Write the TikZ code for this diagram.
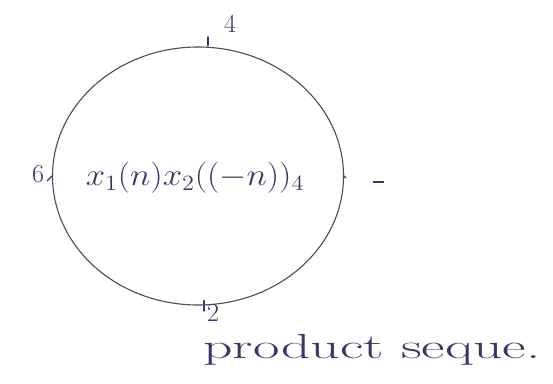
\documentclass[tikz,border=0pt]{standalone}
\usepackage{fix-cm}
\usetikzlibrary{shapes.geometric}
\definecolor{ink}{RGB}{55,55,105}
\definecolor{pencil}{RGB}{75,75,95}
\begin{document}
\begin{tikzpicture}[x=1pt,y=-1pt,
  hand/.style={text=ink,font=\fontsize{26}{30}\selectfont,inner sep=0pt},
  tick/.style={draw=ink,line width=1.6pt,line cap=round}]
\useasboundingbox[fill=white] (0,0) rectangle (553,383);
\node[draw=pencil,line width=1.1pt,ellipse,minimum width=291pt,minimum height=258pt,inner sep=0pt] (ring) at (198,176) {};
\node[hand,font=\fontsize{24}{28}\selectfont,xscale=1.45,yscale=1.3] (mid) at (195,178) {$x_1(n)x_2((-n))_4$};
% top tick and label
\coordinate (tt) at (208,37);
\draw[tick] (ring.north -| tt) ++(0,-1) -- (tt);
\node[hand] (l4) at (230,24) {4};
% left
\node[hand] (l6) at (38,174) {6};
\coordinate (lt) at (47,181);
\draw[tick,line width=1.2pt] (lt) -- (ring.west);
% right
\coordinate (rt) at (346,178);
\draw[tick,line width=1.2pt] (ring.east) -- (rt);
\node[hand] (l1) at (378,182) {\rule{11pt}{1.3pt}};
% bottom
\coordinate (bt) at (204,311);
\draw[tick,line width=1.2pt] (ring.south -| bt) ++(0,-5) -- (bt);
\node[hand] (l2) at (213,313) {2};
% caption
\node[hand,font=\fontsize{24}{28}\selectfont,anchor=west,xscale=2.4,yscale=1.45] (cap) at (203,350) {product seque.};
\end{tikzpicture}
\end{document}
